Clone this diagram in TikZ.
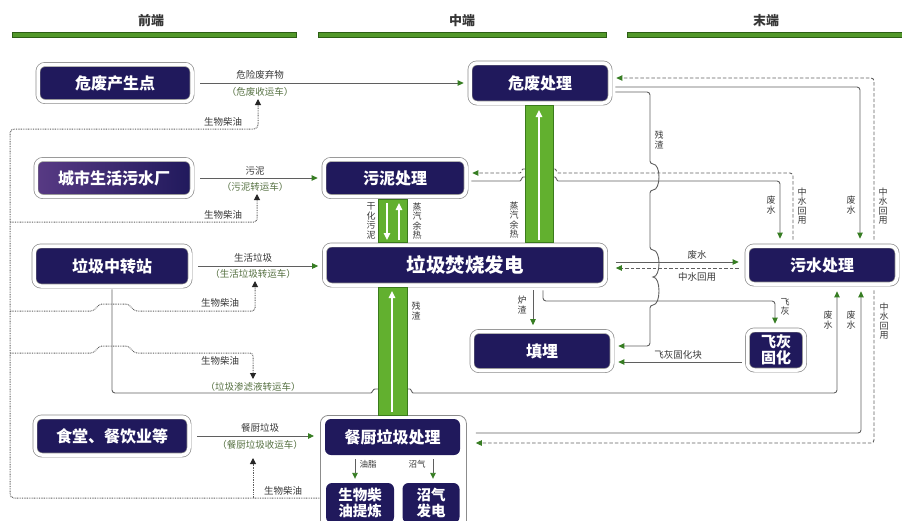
\documentclass[tikz,border=0pt]{standalone}
\usepackage{fontspec}
\setmainfont{Noto Sans CJK SC}
\usetikzlibrary{arrows.meta,calc}
\definecolor{navy}{RGB}{32,25,92}
\definecolor{navyp}{RGB}{88,58,132}
\definecolor{edgegray}{RGB}{140,140,140}
\definecolor{bandgreen}{RGB}{98,176,47}
\definecolor{banddark}{RGB}{58,122,28}
\definecolor{bargreen}{RGB}{82,152,42}
\definecolor{bardark}{RGB}{45,94,22}
\definecolor{linegray}{RGB}{95,95,95}
\definecolor{agreen}{RGB}{55,125,35}
\definecolor{vehgreen}{RGB}{85,112,65}
\definecolor{labgray}{RGB}{55,55,55}
\begin{document}
\begin{tikzpicture}[x=1pt,y=-1pt,
  box/.style={draw=edgegray, double=white, double distance=3.5pt, line width=0.7pt,
    fill=navy, rounded corners=7pt, text=white, inner sep=0pt, align=center,
    font=\bfseries\fontsize{16}{18}\selectfont},
  inbox/.style={fill=navy, rounded corners=6pt, text=white, inner sep=0pt, align=center,
    font=\bfseries\fontsize{16}{18}\selectfont},
  head/.style={text=labgray, font=\bfseries\fontsize{13}{13}\selectfont},
  bar/.style={fill=bargreen, draw=bardark, line width=0.6pt},
  band/.style={fill=bandgreen, draw=banddark, line width=0.8pt},
  conn/.style={draw=linegray, line width=0.9pt},
  dashline/.style={draw=linegray, line width=0.9pt, dash pattern=on 3.5pt off 2pt},
  dotline/.style={draw=linegray, line width=1pt, dash pattern=on 0.8pt off 0.9pt},
  ga/.style={-{Triangle[length=6pt,width=5.5pt,color=agreen]}},
  bka/.style={-{Triangle[length=6pt,width=6pt,color=black!85]}},
  bks/.style={{Triangle[length=6pt,width=6pt,color=black!85]}-},
  warr/.style={white, line width=1.3pt, -{Triangle[length=7pt,width=6.5pt,color=white]}},
  lab/.style={text=labgray, inner sep=0pt, font=\fontsize{9.5}{10}\selectfont},
  veh/.style={text=vehgreen, inner sep=0pt, font=\fontsize{9.5}{10}\selectfont},
  vlab/.style={text=labgray, inner sep=0pt, align=center, font=\fontsize{9}{9.6}\selectfont}
]
\useasboundingbox (0,0) rectangle (902,520);
% header
\node[head] (h1) at (151,21) {前端};
\node[head] (h2) at (462,21) {中端};
\node[head] (h3) at (766,21) {末端};
\draw[bar] (12,32) rectangle (296,37);
\draw[bar] (318,32) rectangle (606,37);
\draw[bar] (627,32) rectangle (904,37);

% left column nodes
\node[box, minimum width=154pt, minimum height=37pt] (hwsrc) at (115,83) {危废产生点};
\node[box, minimum width=156pt, minimum height=37pt, left color=navyp, right color=navy] (plant) at (114,178) {城市生活污水厂};
\node[box, minimum width=156pt, minimum height=40pt] (transfer) at (112,266) {垃圾中转站};
\node[box, minimum width=154pt, minimum height=38pt] (canteen) at (112,436) {食堂、餐饮业等};

% middle / right nodes
\node[box, minimum width=140pt, minimum height=40pt] (hwproc) at (540,83) {危废处理};
\node[box, minimum width=142pt, minimum height=37pt] (sludge) at (395,178) {污泥处理};
\node[box, minimum width=281pt, minimum height=40pt, font=\bfseries\fontsize{19.5}{21}\selectfont] (incin) at (465,265) {垃圾焚烧发电};
\node[box, minimum width=150pt, minimum height=38pt] (sewproc) at (822,265) {污水处理};
\node[box, minimum width=140pt, minimum height=39pt] (landfill) at (542,351) {填埋};
\node[box, minimum width=57pt, minimum height=40pt, font=\bfseries\fontsize{15}{16.5}\selectfont] (flyash) at (776,350) {飞灰\\固化};

% kitchen container
\node[draw=edgegray, fill=white, line width=0.8pt, rounded corners=8pt, minimum width=146pt,
  minimum height=125pt, anchor=north west, inner sep=0pt] (kbox) at (320,415) {};
\node[inbox, minimum width=135pt, minimum height=36pt] (kitchen) at (392.5,437) {餐厨垃圾处理};
\node[inbox, minimum width=68pt, minimum height=40pt, font=\bfseries\fontsize{14.5}{16}\selectfont] (biod) at (360,503) {生物柴\\油提炼};
\node[inbox, minimum width=57pt, minimum height=40pt, font=\bfseries\fontsize{14.5}{16}\selectfont] (biogas) at (431,503) {沼气\\发电};

% free ends of the bio-diesel supply arrows
\coordinate (bd1) at (258,99);
\coordinate (bd2) at (257,194);
\coordinate (bd3) at (255,281);
\coordinate (bd4) at (253,379);
\coordinate (bd5) at (253,458);

% ---- connectors ----
\draw[conn,ga,shorten <=8pt,shorten >=6pt] (hwsrc.east) -- (hwproc.west);
\draw[conn,ga,shorten <=8pt,shorten >=6pt] (plant.east) -- (sludge.west);
\draw[conn,ga,shorten <=8pt,shorten >=6pt] (transfer.east) -- (transfer.east -| incin.west);
\draw[conn,ga,shorten <=8pt,shorten >=6pt] (canteen.east) -- (canteen.east -| kbox.west);

% bio-diesel (dotted)
\draw[dotline,bks,rounded corners=4pt] (bd1) -- (258,129) -- (10,129) -- (10,498) -- (kbox.west |- 0,498);
\draw[dotline,bka,rounded corners=3pt] (10,222) -- (257,222) -- (bd2);
\draw[dotline,bka,rounded corners=3pt] (10,311) -- (88,311) .. controls (96,311) and (97,304) .. (105,304)
  -- (123,304) .. controls (131,304) and (132,311) .. (140,311) -- (255,311) -- (bd3);
\draw[dotline,bka,rounded corners=3pt] (10,353) -- (88,353) .. controls (96,353) and (97,346) .. (105,346)
  -- (123,346) .. controls (131,346) and (132,353) .. (140,353) -- (253,353) -- (bd4);
\draw[dotline,bka] (253,498) -- (bd5);

% leachate
\draw[conn,ga,rounded corners=3pt,shorten <=3pt,shorten >=7pt] (transfer.south) -- (112,393) -- (368,393)
  .. controls (372,393) and (373,389) .. (378,389) -- (407,389) .. controls (411,389) and (412,393) .. (416,393)
  -- (837,393) -- (837,0 |- sewproc.south);

% residue from hazardous waste
\draw[conn,ga,rounded corners=3pt,shorten <=5pt,shorten >=6pt] ([shift={(0,9)}]hwproc.east) -- (650,92) -- (650,164)
  .. controls (661,164) and (661,190) .. (650,190) -- (650,250)
  .. controls (661,250) and (661,277) .. (650,277) .. controls (661,277) and (661,305) .. (650,305)
  -- (650,346) -- (landfill.east |- 0,346);
% hazardous waste -> sewage
\draw[conn,ga,rounded corners=3pt,shorten <=5pt,shorten >=7pt] ([shift={(0,4)}]hwproc.east) -- (860,87) -- (860,0 |- sewproc.north);
\draw[dashline,ga,rounded corners=3pt,shorten <=6pt,shorten >=6pt] (874,0 |- sewproc.north) -- (874,78) -- (hwproc.east |- 0,78);
% sludge <-> sewage
\draw[conn,ga,rounded corners=3pt,shorten <=5pt,shorten >=7pt] (sludge.east |- 0,181) -- (517,181)
  .. controls (521,181) and (522,177) .. (526,177) -- (552,177) .. controls (556,177) and (557,181) .. (561,181)
  -- (780,181) -- (780,0 |- sewproc.north);
\draw[dashline,ga,rounded corners=3pt,shorten <=6pt,shorten >=6pt] (793,0 |- sewproc.north) -- (793,173) -- (561,173)
  .. controls (557,173) and (556,169) .. (552,169) -- (526,169) .. controls (522,169) and (521,173) .. (517,173)
  -- (sludge.east |- 0,173);
% incineration <-> sewage
\draw[conn,ga,shorten <=10pt,shorten >=8pt] ([yshift=3pt]incin.east) -- ([yshift=3pt]incin.east -| sewproc.west);
\draw[dashline,ga,shorten <=8pt,shorten >=10pt] ([yshift=-3pt]sewproc.west) -- ([yshift=-3pt]sewproc.west -| incin.east);
% slag, fly ash
\draw[conn,ga,shorten <=5pt,shorten >=6pt] (533,0 |- incin.south) -- (533,0 |- landfill.north);
\draw[conn,ga,rounded corners=3pt,shorten <=5pt,shorten >=6pt] (543,0 |- incin.south) -- (543,301) -- (775,301) -- (775,0 |- flyash.north);
\draw[conn,ga,shorten <=5pt,shorten >=6pt] ([yshift=-12pt]flyash.west) -- ([yshift=-12pt]flyash.west -| landfill.east);
% kitchen <-> sewage
\draw[conn,ga,rounded corners=3pt,shorten <=9pt,shorten >=7pt] (kbox.east |- 0,433) -- (861,433) -- (861,0 |- sewproc.south);
\draw[dashline,ga,rounded corners=3pt,shorten <=6pt,shorten >=9pt] (874,0 |- sewproc.south) -- (874,443) -- (kbox.east |- 0,443);
% oil, biogas
\draw[conn,ga,shorten <=4pt,shorten >=4pt] (355,0 |- kitchen.south) -- (355,0 |- biod.north);
\draw[conn,ga,shorten <=4pt,shorten >=4pt] (433,0 |- kitchen.south) -- (433,0 |- biogas.north);

% ---- green bands ----
\draw[band] (525,105.5) rectangle (553,242.5);
\draw[band] (378,199) rectangle (407,242.5);
\draw[band] (378,287.5) rectangle (407,415);
\draw[warr] (539,240) -- (539,110);
\draw[warr] (387,203) -- (387,240);
\draw[warr] (399,240) -- (399,203);
\draw[warr] (392,412) -- (392,291);

% ---- labels ----
\node[lab] (l1) at (260,75) {危险废弃物};
\node[veh] (l2) at (260,92) {（危废收运车）};
\node[lab] (l3) at (223,122) {生物柴油};
\node[lab] (l4) at (255,171) {污泥};
\node[veh] (l5) at (255,187) {（污泥转运车）};
\node[lab] (l6) at (223,215) {生物柴油};
\node[lab] (l7) at (253,258) {生活垃圾};
\node[veh] (l8) at (253,274) {（生活垃圾转运车）};
\node[lab] (l9) at (220,303) {生物柴油};
\node[lab] (l10) at (220,361) {生物柴油};
\node[veh] (l11) at (253,387) {（垃圾渗滤液转运车）};
\node[lab] (l12) at (260,428) {餐厨垃圾};
\node[veh] (l13) at (260,445) {（餐厨垃圾收运车）};
\node[lab] (l14) at (283,491) {生物柴油};
\node[lab] (l15) at (697,255) {废水};
\node[lab] (l16) at (697,277) {中水回用};
\node[lab] (l17) at (678,355) {飞灰固化块};
\node[lab, font=\fontsize{8.5}{9}\selectfont] (l18) at (368,464) {油脂};
\node[lab, font=\fontsize{8.5}{9}\selectfont] (l19) at (417,464) {沼气};

\node[vlab] (v1) at (659,140) {残\\渣};
\node[vlab] (v2) at (514,220) {蒸\\汽\\余\\热};
\node[vlab] (v3) at (371,221) {干\\化\\污\\泥};
\node[vlab] (v4) at (417,221) {蒸\\汽\\余\\热};
\node[vlab] (v5) at (771,205) {废\\水};
\node[vlab] (v6) at (802,206) {中\\水\\回\\用};
\node[vlab] (v7) at (851,205) {废\\水};
\node[vlab] (v8) at (883,206) {中\\水\\回\\用};
\node[vlab] (v9) at (416,311) {残\\渣};
\node[vlab] (v10) at (522,305) {炉\\渣};
\node[vlab] (v11) at (785,307) {飞\\灰};
\node[vlab] (v12) at (828,320) {废\\水};
\node[vlab] (v13) at (851,320) {废\\水};
\node[vlab] (v14) at (884,321) {中\\水\\回\\用};
\end{tikzpicture}
\end{document}
